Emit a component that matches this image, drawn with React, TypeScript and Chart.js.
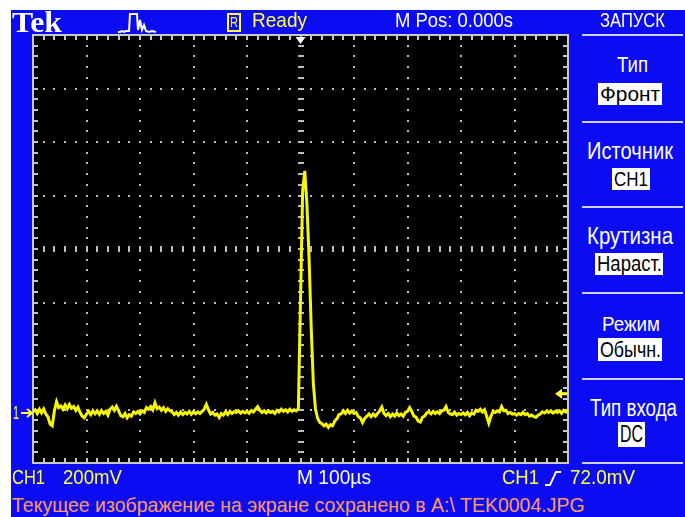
import React, { useEffect, useRef } from "react";
import { Chart, registerables } from "chart.js";

Chart.register(...registerables);

// ---- data ----
const TIME_START_US = -500;
const SAMPLE_US = 4;
const X_TICKS_US = [-500, -400, -300, -200, -100, 0, 100, 200, 300, 400, 500];
const Y_MIN_MV = -187;
const Y_MAX_MV = 1413;
const VOLTS_PER_DIV_MV = 200;
const TRIGGER_LEVEL_MV = 72;
const TRIGGER_TIME_US = 0;
const TRACE_MV = [
  5, 12, -2, 14, 0, 15, -4, -15, -42, -48,
  8, 42, 20, 26, 14, 30, 16, 32, 18, 24,
  10, 22, 2, -12, -18, -4, 6, -6, 8, -3,
  7, -5, 9, -2, 6, -8, 14, 22, 10, 25,
  8, -10, -14, -2, -18, -6, -12, 4, -2, 6,
  -3, 8, 2, 20, 14, 24, 12, 38, 16, 22,
  10, 20, 6, 16, 8, 4, -6, 2, -8, 3,
  -6, 2, -4, 6, -5, 5, -3, 4, -2, 6,
  14, 32, 12, -4, 2, -8, -4, -17, -2, -8,
  4, -6, 6, -2, 5, 2, 8, -1, 6, 0,
  6, -1, 9, 4, 14, 24, 10, 2, 8, 0,
  8, 2, 6, -2, 10, 4, 14, 6, 12, 4,
  14, 6, 12, 8, 16, 420, 830, 905, 780, 580,
  320, 110, 15, -20, -35, -40, -48, -42, -54, -44,
  -48, -30, -22, -6, -4, 8, -2, 10, 0, 7,
  -2, 2, -14, -18, -36, -20, -12, -4, -14, -4,
  -12, -2, 8, 22, -2, -10, -2, -14, -4, -12,
  0, -10, -4, -12, 2, 6, 20, 6, -12, -16,
  -30, -34, -16, -12, 0, 4, -3, 6, -2, 5,
  -2, 8, 10, 24, 2, -4, -6, 3, -8, -2,
  -6, 0, -7, 2, -10, 0, -4, 10, 6, 14,
  4, 12, -12, -38, -12, 6, 2, 8, 4, 24,
  8, 10, -2, 2, -4, -2, -8, -2, -6, 2,
  -6, -2, -12, -8, -14, -16, -8, -4, 4, 0,
  6, 2, 8, 0, 6, 2, 8, -1, 10, 4, 12,
];

const MENU_TITLE = "ЗАПУСК";
const MENU_LABELS = ["Тип", "Источник", "Крутизна", "Режим", "Тип входа"];
const MENU_VALUES = ["Фронт", "CH1", "Нараст.", "Обычн.", "DC"];
const STATUS_MSG = "Текущее изображение на экране сохранено в A:\\ TEK0004.JPG";

// ---- styles ----
const BLUE = "#0c0cf2";
const YELLOW = "#ffff3c";
const TRACE = "#f7f700";
const GRID = "#bdbdbd";
const SANS = '"Liberation Sans", Arial, sans-serif';
const SERIF = '"Liberation Serif", "Times New Roman", serif';

const scopePlugin = {
  id: "scope",
  beforeDraw(chart: any) {
    const { ctx, chartArea: a } = chart;
    ctx.save();
    ctx.fillStyle = "#000";
    ctx.fillRect(a.left, a.top, a.right - a.left, a.bottom - a.top);
    ctx.restore();
  },
  beforeDatasetsDraw(chart: any) {
    const { ctx, chartArea: a } = chart;
    const xs = chart.scales.x;
    const ys = chart.scales.y;
    const nx = X_TICKS_US.length - 1;
    const xSpan = X_TICKS_US[nx] - X_TICKS_US[0];
    const ny = Math.round((Y_MAX_MV - Y_MIN_MV) / VOLTS_PER_DIV_MV);
    const xv = (k: number) => X_TICKS_US[0] + (xSpan * k) / (nx * 5);
    const yv = (k: number) => Y_MIN_MV + (VOLTS_PER_DIV_MV * k) / 5;
    ctx.save();
    ctx.fillStyle = GRID;
    for (let i = 1; i < nx; i++) {
      if (i === nx / 2) continue;
      const px = xs.getPixelForValue(X_TICKS_US[i]);
      for (let k = 1; k < ny * 5; k++) {
        const py = ys.getPixelForValue(yv(k));
        ctx.fillRect(Math.round(px) - 1, Math.round(py) - 1, 2, 2);
      }
    }
    for (let j = 1; j < ny; j++) {
      if (j === ny / 2) continue;
      const py = ys.getPixelForValue(Y_MIN_MV + j * VOLTS_PER_DIV_MV);
      for (let k = 1; k < nx * 5; k++) {
        const px = xs.getPixelForValue(xv(k));
        ctx.fillRect(Math.round(px) - 1, Math.round(py) - 1, 2, 2);
      }
    }
    const cx = xs.getPixelForValue(TRIGGER_TIME_US);
    const cy = ys.getPixelForValue(Y_MIN_MV + (ny / 2) * VOLTS_PER_DIV_MV);
    for (let k = 1; k < ny * 5; k++) {
      const py = ys.getPixelForValue(yv(k));
      ctx.fillRect(Math.round(cx) - 3, Math.round(py) - 1, 6, 2);
    }
    for (let k = 1; k < nx * 5; k++) {
      const px = xs.getPixelForValue(xv(k));
      ctx.fillRect(Math.round(px) - 1, Math.round(cy) - 3, 2, 6);
    }
    ctx.fillStyle = "#c8c8c8";
    for (let k = 1; k < nx * 5; k++) {
      const px = Math.round(xs.getPixelForValue(xv(k)));
      ctx.fillRect(px - 1, a.top, 2, 5);
      ctx.fillRect(px - 1, a.bottom - 5, 2, 5);
    }
    for (let k = 1; k < ny * 5; k++) {
      const py = Math.round(ys.getPixelForValue(yv(k)));
      ctx.fillRect(a.left, py - 1, 5, 2);
      ctx.fillRect(a.right - 5, py - 1, 5, 2);
    }
    ctx.strokeStyle = "#c8c8c8";
    ctx.lineWidth = 2;
    ctx.strokeRect(a.left, a.top, a.right - a.left, a.bottom - a.top);
    ctx.restore();
  },
  afterDatasetsDraw(chart: any) {
    const { ctx, chartArea: a } = chart;
    const xs = chart.scales.x;
    const ys = chart.scales.y;
    ctx.save();
    const tx = xs.getPixelForValue(TRIGGER_TIME_US);
    ctx.fillStyle = "#ffffff";
    ctx.beginPath();
    ctx.moveTo(tx - 5, a.top + 2);
    ctx.lineTo(tx + 5, a.top + 2);
    ctx.lineTo(tx, a.top + 9);
    ctx.closePath();
    ctx.fill();
    const ty = ys.getPixelForValue(TRIGGER_LEVEL_MV);
    ctx.fillStyle = YELLOW;
    ctx.beginPath();
    ctx.moveTo(a.right - 13, ty);
    ctx.lineTo(a.right - 6, ty - 5);
    ctx.lineTo(a.right - 6, ty + 5);
    ctx.closePath();
    ctx.fill();
    ctx.fillRect(a.right - 7, ty - 1.5, 6, 3);
    const gy = ys.getPixelForValue(0);
    ctx.strokeStyle = YELLOW;
    ctx.lineWidth = 2;
    ctx.beginPath();
    ctx.moveTo(a.left - 12, gy);
    ctx.lineTo(a.left - 1, gy);
    ctx.stroke();
    ctx.beginPath();
    ctx.moveTo(a.left - 6, gy - 4);
    ctx.lineTo(a.left - 1, gy);
    ctx.lineTo(a.left - 6, gy + 4);
    ctx.stroke();
    ctx.restore();
  },
};

let measureCtx: CanvasRenderingContext2D | null = null;
function measure(font: string, text: string) {
  if (!measureCtx) measureCtx = document.createElement("canvas").getContext("2d");
  if (!measureCtx) return 1;
  measureCtx.font = font;
  return measureCtx.measureText(text).width || 1;
}

// x: left edge, w: target ink width, capTop / base: top of capitals and baseline
function Txt(props: {
  x: number;
  w: number;
  capTop: number;
  base: number;
  color: string;
  text: string;
  serif?: boolean;
  bold?: boolean;
}) {
  const { x, w, capTop, base, color, text, serif, bold } = props;
  const family = serif ? SERIF : SANS;
  const capRatio = serif ? 0.662 : 0.716;
  const baseRatio = serif ? 0.8375 : 0.8465;
  const size = (base - capTop) / capRatio;
  const nat = measure(`${bold ? "bold " : ""}${size}px ${family}`, text);
  const sx = w / nat;
  return (
    <div
      style={{
        position: "absolute",
        left: x,
        top: base - baseRatio * size,
        fontSize: size,
        lineHeight: `${size}px`,
        height: size,
        fontFamily: family,
        fontWeight: bold ? 700 : 400,
        color,
        whiteSpace: "nowrap",
        transform: `scaleX(${sx})`,
        transformOrigin: "0 0",
      }}
    >
      {text}
    </div>
  );
}

function Box(props: { x1: number; x2: number; y1: number; y2: number; color?: string }) {
  const { x1, x2, y1, y2, color } = props;
  return (
    <div
      style={{
        position: "absolute",
        left: x1,
        top: y1,
        width: x2 - x1,
        height: y2 - y1,
        background: color || "#fff",
      }}
    />
  );
}

export default function App() {
  const ref = useRef<HTMLCanvasElement | null>(null);
  useEffect(() => {
    if (!ref.current) return;
    const points = TRACE_MV.map((v, i) => ({ x: TIME_START_US + i * SAMPLE_US, y: v }));
    const chart = new Chart(ref.current, {
      type: "line",
      data: {
        datasets: [
          {
            data: points,
            borderColor: TRACE,
            borderWidth: 3,
            pointRadius: 0,
            tension: 0,
            fill: false,
          },
        ],
      },
      options: {
        animation: false,
        responsive: false,
        parsing: false as any,
        normalized: true,
        layout: { padding: { left: 22, right: 10, top: 10, bottom: 10 } },
        plugins: { legend: { display: false }, tooltip: { enabled: false } },
        scales: {
          x: {
            type: "linear",
            min: X_TICKS_US[0],
            max: X_TICKS_US[X_TICKS_US.length - 1],
            display: false,
          },
          y: { type: "linear", min: Y_MIN_MV, max: Y_MAX_MV, display: false },
        },
      },
      plugins: [scopePlugin],
    });
    return () => chart.destroy();
  }, []);

  const seps = [35, 122, 207, 293, 379, 463];
  const labels = [
    { x: 617, w: 31, capTop: 57, base: 73 },
    { x: 587, w: 86, capTop: 143, base: 160 },
    { x: 587, w: 86, capTop: 228, base: 245 },
    { x: 602, w: 58, capTop: 317, base: 332 },
    { x: 590, w: 87, capTop: 400, base: 417 },
  ];
  const boxes = [
    { x1: 598, x2: 662, y1: 83, y2: 105, tx: 600, tw: 60, capTop: 87, base: 102 },
    { x1: 612, x2: 650, y1: 168, y2: 190, tx: 614, tw: 34, capTop: 172, base: 187 },
    { x1: 595, x2: 663, y1: 253, y2: 275, tx: 597, tw: 65, capTop: 256, base: 272 },
    { x1: 598, x2: 662, y1: 338, y2: 361, tx: 600, tw: 61, capTop: 342, base: 358 },
    { x1: 618, x2: 645, y1: 422, y2: 447, tx: 620, tw: 23, capTop: 426, base: 443 },
  ];

  return (
    <div style={{ position: "absolute", left: 0, top: 0, width: 685, height: 517, background: "#fff", overflow: "hidden" }}>
      <Box x1={11} x2={685} y1={10} y2={517} color={BLUE} />
      <canvas
        ref={ref}
        width={567}
        height={448}
        style={{ position: "absolute", left: 11, top: 25, width: 567, height: 448 }}
      />
      {/* header */}
      <Txt x={12} w={50} capTop={13} base={32} color="#fff" text="Tek" serif bold />
      <svg style={{ position: "absolute", left: 117, top: 11 }} width={40} height={24}>
        <polyline
          points="1,21 3,21 5,20 7,21 9,20 12,20 13,3 20,3 21,19 23,9 25,19 27,14 29,20 32,21 35,20 39,21"
          fill="none"
          stroke="#fff"
          strokeWidth={2}
        />
      </svg>
      <div
        style={{
          position: "absolute",
          left: 227,
          top: 13,
          width: 10,
          height: 15,
          border: `2px solid ${YELLOW}`,
        }}
      />
      <Txt x={230} w={8} capTop={16} base={27} color={YELLOW} text="R" />
      <Txt x={252} w={55} capTop={13} base={28} color={YELLOW} text="Ready" />
      <Txt x={395} w={118} capTop={13} base={28} color="#fff" text="M Pos: 0.000s" />
      <Txt x={600} w={65} capTop={13} base={28} color="#fff" text={MENU_TITLE} />
      {/* right menu */}
      {seps.map((y) => (
        <Box key={y} x1={582} x2={683} y1={y - 1} y2={y + 1} color="#d0d0ff" />
      ))}
      {MENU_LABELS.map((t, i) => (
        <Txt key={t} {...labels[i]} color="#fff" text={t} />
      ))}
      {MENU_VALUES.map((t, i) => {
        const b = boxes[i];
        return (
          <React.Fragment key={t}>
            <Box x1={b.x1} x2={b.x2} y1={b.y1} y2={b.y2} />
            <Txt x={b.tx} w={b.tw} capTop={b.capTop} base={b.base} color="#000" text={t} />
          </React.Fragment>
        );
      })}
      {/* ground marker label */}
      <Txt x={13} w={6} capTop={406} base={419} color={YELLOW} text="1" />
      {/* bottom status */}
      <Txt x={12} w={33} capTop={471} base={485} color={YELLOW} text="CH1" />
      <Txt x={63} w={59} capTop={471} base={485} color={YELLOW} text="200mV" />
      <Txt x={297} w={74} capTop={471} base={485} color="#fff" text="M 100µs" />
      <Txt x={502} w={37} capTop={471} base={485} color={YELLOW} text="CH1" />
      <svg style={{ position: "absolute", left: 543, top: 470 }} width={20} height={17}>
        <polyline points="2,15 7,15 13,2 18,2" fill="none" stroke="#fff" strokeWidth={1.8} />
      </svg>
      <Txt x={570} w={65} capTop={471} base={485} color={YELLOW} text="72.0mV" />
      <Txt x={12} w={573} capTop={499} base={513} color="#ff9a5c" text={STATUS_MSG} />
    </div>
  );
}
